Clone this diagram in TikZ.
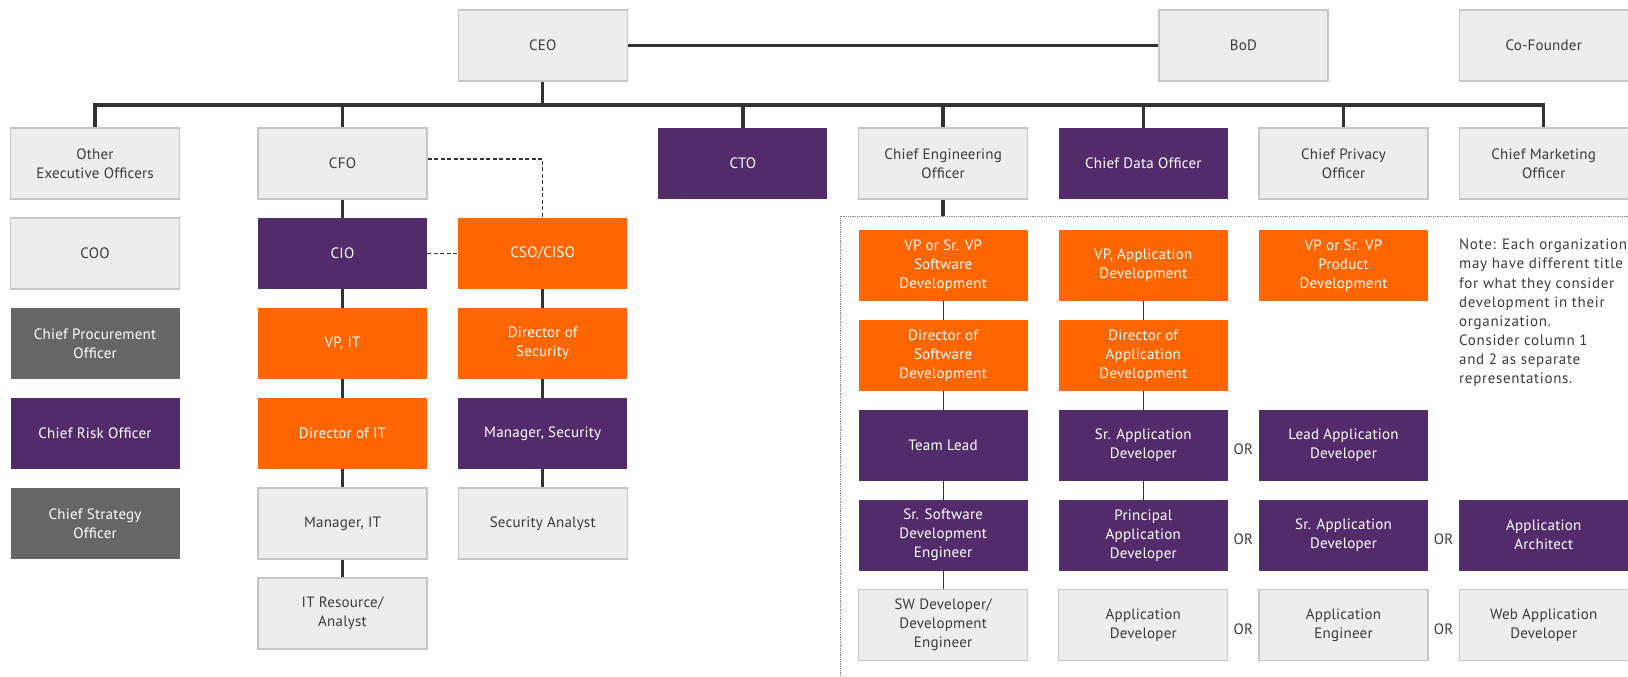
\documentclass[tikz,border=0pt]{standalone}
\usepackage{fontspec}
\setmainfont{PT Sans}
\newfontfamily\boxfont[LetterSpace=1.5]{PT Sans}
\newfontfamily\notefont[LetterSpace=4.5]{PT Sans}
\usetikzlibrary{positioning}

\definecolor{boxgrey}{HTML}{EDEDED}
\definecolor{boxedge}{HTML}{C6C6C6}
\definecolor{txtdark}{HTML}{3A3A3A}
\definecolor{linedark}{HTML}{333333}
\definecolor{purp}{HTML}{522C6A}
\definecolor{orng}{HTML}{FF6600}
\definecolor{slate}{HTML}{666666}

\tikzset{
  role/.style={minimum width=169, minimum height=71, align=center, inner sep=2,
    font=\boxfont\fontsize{15}{19}\selectfont},
  light/.style={role, fill=boxgrey, draw=boxedge, line width=1.2, text=txtdark},
  violet/.style={role, fill=purp, text=white},
  amber/.style={role, fill=orng, text=white},
  ash/.style={role, fill=slate, text=white},
  link/.style={draw=linedark, line width=3.5},
  thinlink/.style={draw=linedark, line width=1.2},
  dashlink/.style={draw=linedark, line width=1.5, dash pattern=on 4 off 2.5},
  orlabel/.style={text=txtdark, inner sep=0, yshift=-4, font=\boxfont\fontsize{15}{19}\selectfont},
}

\begin{document}
\begin{tikzpicture}[x=1pt, y=-1pt]
    \def\x{200.2}
    \def\y{90}
    \useasboundingbox (0,0) rectangle (1628,677);
    % top row
    \node[light] (A0_2) at (142.3+2*\x, 45.5) {CEO};
    \node[light] (A0_6) at (142.3+5.5*\x, 45.5) {BoD};
    \node[light] (A0_7) at (142.3+7*\x, 45.5) {Co-Founder};
    % executives
    \node[light] (A1_0) at (95, 73.5+1*\y) {Other\\Executive Officers};
    \node[light] (A1_1) at (142.3+1*\x, 73.5+1*\y) {CFO};
    \node[violet] (A1_3) at (142.3+3*\x, 73.5+1*\y) {CTO};
    \node[light] (A1_4) at (142.3+4*\x, 73.5+1*\y) {Chief Engineering\\Officer};
    \node[violet] (A1_5) at (142.3+5*\x, 73.5+1*\y) {Chief Data Officer};
    \node[light] (A1_6) at (142.3+6*\x, 73.5+1*\y) {Chief Privacy\\Officer};
    \node[light] (A1_7) at (142.3+7*\x, 73.5+1*\y) {Chief Marketing\\Officer};
    \node[light] (A2_0) at (95, 73.5+2*\y) {COO};
    \node[ash] (A3_0) at (95, 73.5+3*\y) {Chief Procurement\\Officer};
    \node[violet] (A4_0) at (95, 73.5+4*\y) {Chief Risk Officer};
    \node[ash] (A5_0) at (95, 73.5+5*\y) {Chief Strategy\\Officer};
    % finance and IT
    \node[violet] (A2_1) at (142.3+1*\x, 73.5+2*\y) {CIO};
    \node[amber] (A3_1) at (142.3+1*\x, 73.5+3*\y) {VP, IT};
    \node[amber] (A4_1) at (142.3+1*\x, 73.5+4*\y) {Director of IT};
    \node[light] (A5_1) at (142.3+1*\x, 73.5+5*\y) {Manager, IT};
    \node[light] (A6_1) at (142.3+1*\x, 73.5+6*\y) {IT Resource/\\Analyst};
    \node[amber] (A2_2) at (142.3+2*\x, 73.5+2*\y) {CSO/CISO};
    \node[amber] (A3_2) at (142.3+2*\x, 73.5+3*\y) {Director of\\Security};
    \node[violet] (A4_2) at (142.3+2*\x, 73.5+4*\y) {Manager, Security};
    \node[light] (A5_2) at (142.3+2*\x, 73.5+5*\y) {Security Analyst};
    % development
    \node[amber] (B1_4) at (142.3+4*\x, 175.2+1*\y) {VP or Sr. VP\\Software\\Development};
    \node[amber] (B1_5) at (142.3+5*\x, 175.2+1*\y) {VP, Application\\Development};
    \node[amber] (B1_6) at (142.3+6*\x, 175.2+1*\y) {VP or Sr. VP\\Product\\Development};
    \node[amber] (B2_4) at (142.3+4*\x, 175.2+2*\y) {Director of\\Software\\Development};
    \node[amber] (B2_5) at (142.3+5*\x, 175.2+2*\y) {Director of\\Application\\Development};
    \node[violet] (B3_4) at (142.3+4*\x, 175.2+3*\y) {Team Lead};
    \node[violet] (B3_5) at (142.3+5*\x, 175.2+3*\y) {Sr. Application\\Developer};
    \node[violet] (B3_6) at (142.3+6*\x, 175.2+3*\y) {Lead Application\\Developer};
    \node[violet] (B4_4) at (142.3+4*\x, 175.2+4*\y) {Sr. Software\\Development\\Engineer};
    \node[violet] (B4_5) at (142.3+5*\x, 175.2+4*\y) {Principal\\Application\\Developer};
    \node[violet] (B4_6) at (142.3+6*\x, 175.2+4*\y) {Sr. Application\\Developer};
    \node[violet] (B4_7) at (142.3+7*\x, 175.2+4*\y) {Application\\Architect};
    \node[light] (B5_4) at (142.3+4*\x, 175.2+5*\y) {SW Developer/\\Development\\Engineer};
    \node[light] (B5_5) at (142.3+5*\x, 175.2+5*\y) {Application\\Developer};
    \node[light] (B5_6) at (142.3+6*\x, 175.2+5*\y) {Application\\Engineer};
    \node[light] (B5_7) at (142.3+7*\x, 175.2+5*\y) {Web Application\\Developer};
    \node[text=txtdark, anchor=north west, align=left, inner sep=0,
      font=\notefont\fontsize{15}{19.1}\selectfont] (note) at (1459, 239)
      {Note: Each organization\\may have different title\\for what they consider\\development in their\\organization.\\Consider column 1\\and 2 as separate\\representations.};
    % reporting lines
    \coordinate (bus) at (0, 105);
    \coordinate (frame) at (840, 216);
    \path (A0_2) edge [link] (A0_6);
    \draw[link] (A0_2.south) -- (A0_2.south |- bus);
    \draw[link] (A1_0.north) -- (A1_0.north |- bus) -- (A1_7.north |- bus) -- (A1_7.north);
    \foreach \c in {1,3,4,5,6}
      \draw[link] (A1_\c.north) -- (A1_\c.north |- bus);
    \foreach \a/\b in {1/2,2/3,3/4,4/5,5/6}
      \path (A\a_1) edge [link] (A\b_1);
    \foreach \a/\b in {2/3,3/4,4/5}
      \path (A\a_2) edge [link] (A\b_2);
    \draw[dashlink] ([yshift=4.5]A1_1.east) -| (A2_2.north);
    \path (A2_1) edge [dashlink] (A2_2);
    \draw[link] (A1_4.south) -- (A1_4.south |- frame);
    \draw[gray, line width=0.8, densely dotted] (1630, 216) -- (frame) -- (840, 680);
    \foreach \a/\b in {1/2,2/3,3/4,4/5}
      \path (B\a_4) edge [thinlink] (B\b_4);
    \foreach \a/\b in {1/2,2/3,3/4}
      \path (B\a_5) edge [thinlink] (B\b_5);
    \path (B3_5) -- node[orlabel] (or3) {OR} (B3_6);
    \path (B4_5) -- node[orlabel] (or4a) {OR} (B4_6);
    \path (B4_6) -- node[orlabel] (or4b) {OR} (B4_7);
    \path (B5_5) -- node[orlabel] (or5a) {OR} (B5_6);
    \path (B5_6) -- node[orlabel] (or5b) {OR} (B5_7);
\end{tikzpicture}
\end{document}
